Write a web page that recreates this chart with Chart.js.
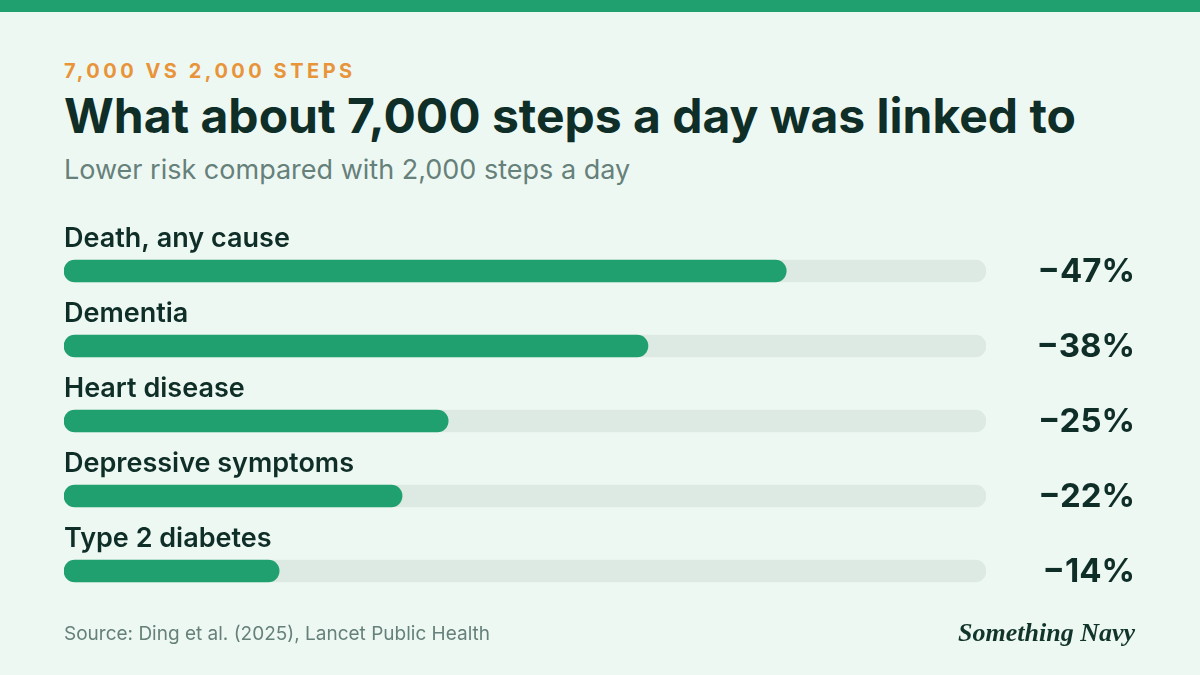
<!DOCTYPE html>
<html>
<head>
<meta charset="utf-8">
<script src="https://cdn.jsdelivr.net/npm/chart.js@4.4.1/dist/chart.umd.min.js"></script>
<style>
  html, body { margin: 0; padding: 0; }
  body { width: 1200px; height: 675px; background: #eef8f3; position: relative; overflow: hidden; font-family: Inter, "Noto Sans", sans-serif; }
  .topbar { position: absolute; left: 0; top: 0; width: 1200px; height: 12px; background: #21a06f; }
  .txt { position: absolute; left: 64px; line-height: 1; white-space: nowrap; }
  .kicker { top: 61px; font-size: 20px; font-weight: 700; letter-spacing: 3.5px; color: #e8943a; }
  .title { top: 92px; font-size: 48px; font-weight: 700; color: #0f2e27; }
  .subtitle { top: 155.5px; font-size: 27px; font-weight: 400; color: #66807a; }
  .source { top: 624px; font-size: 19px; color: #66807a; }
  .brand { position: absolute; right: 65px; top: 620px; line-height: 1; font-family: "Liberation Serif", "DejaVu Serif", serif; font-style: italic; font-weight: 700; font-size: 26px; color: #12352b; }
  canvas { position: absolute; left: 0; top: 0; }
</style>
</head>
<body>
<div class="topbar"></div>
<div class="txt kicker">7,000 VS 2,000 STEPS</div>
<div class="txt title">What about 7,000 steps a day was linked to</div>
<div class="txt subtitle">Lower risk compared with 2,000 steps a day</div>
<canvas id="bars" width="1200" height="675"></canvas>
<div class="txt source">Source: Ding et al. (2025), Lancet Public Health</div>
<div class="brand">Something Navy</div>
<script>
var outcomes = ["Death, any cause", "Dementia", "Heart disease", "Depressive symptoms", "Type 2 diabetes"];
var riskReduction = [47, 38, 25, 22, 14];
var trackMax = 60;
var trackValues = outcomes.map(function() { return trackMax; });

// labels above each bar and the value on the right
var barLabels = {
    id: 'barLabels',
    afterDatasetsDraw: function(chart) {
        var ctx = chart.ctx;
        var meta = chart.getDatasetMeta(0);
        ctx.save();
        meta.data.forEach(function(bar, i) {
            ctx.fillStyle = '#0f2e27';
            ctx.font = "600 27px Inter, 'Noto Sans', sans-serif";
            ctx.textAlign = 'left';
            ctx.textBaseline = 'alphabetic';
            ctx.fillText(outcomes[i], chart.chartArea.left, bar.y - 24);

            ctx.font = "700 33px Inter, 'Noto Sans', sans-serif";
            ctx.textAlign = 'right';
            ctx.textBaseline = 'middle';
            ctx.fillText('\u2212' + riskReduction[i] + '%', 1135, bar.y + 1);
        });
        ctx.restore();
    }
};

var ctx = document.getElementById("bars").getContext("2d");
window.riskChart = new Chart(ctx, {
    type: 'bar',
    data: {
        labels: outcomes,
        datasets: [{
            data: riskReduction,
            backgroundColor: '#21a06f',
            borderRadius: 11,
            borderSkipped: false,
            barThickness: 22,
            grouped: false,
            order: 0
        }, {
            data: trackValues,
            backgroundColor: '#dde9e3',
            borderRadius: 11,
            borderSkipped: false,
            barThickness: 22,
            grouped: false,
            order: 1
        }]
    },
    options: {
        indexAxis: 'y',
        responsive: false,
        animation: false,
        layout: {
            padding: { left: 64, right: 214, top: 233.5, bottom: 66.5 }
        },
        scales: {
            x: { display: false, min: 0, max: trackMax },
            y: { display: false }
        },
        plugins: {
            legend: { display: false },
            tooltip: { enabled: false }
        }
    },
    plugins: [barLabels]
});
</script>
</body>
</html>
